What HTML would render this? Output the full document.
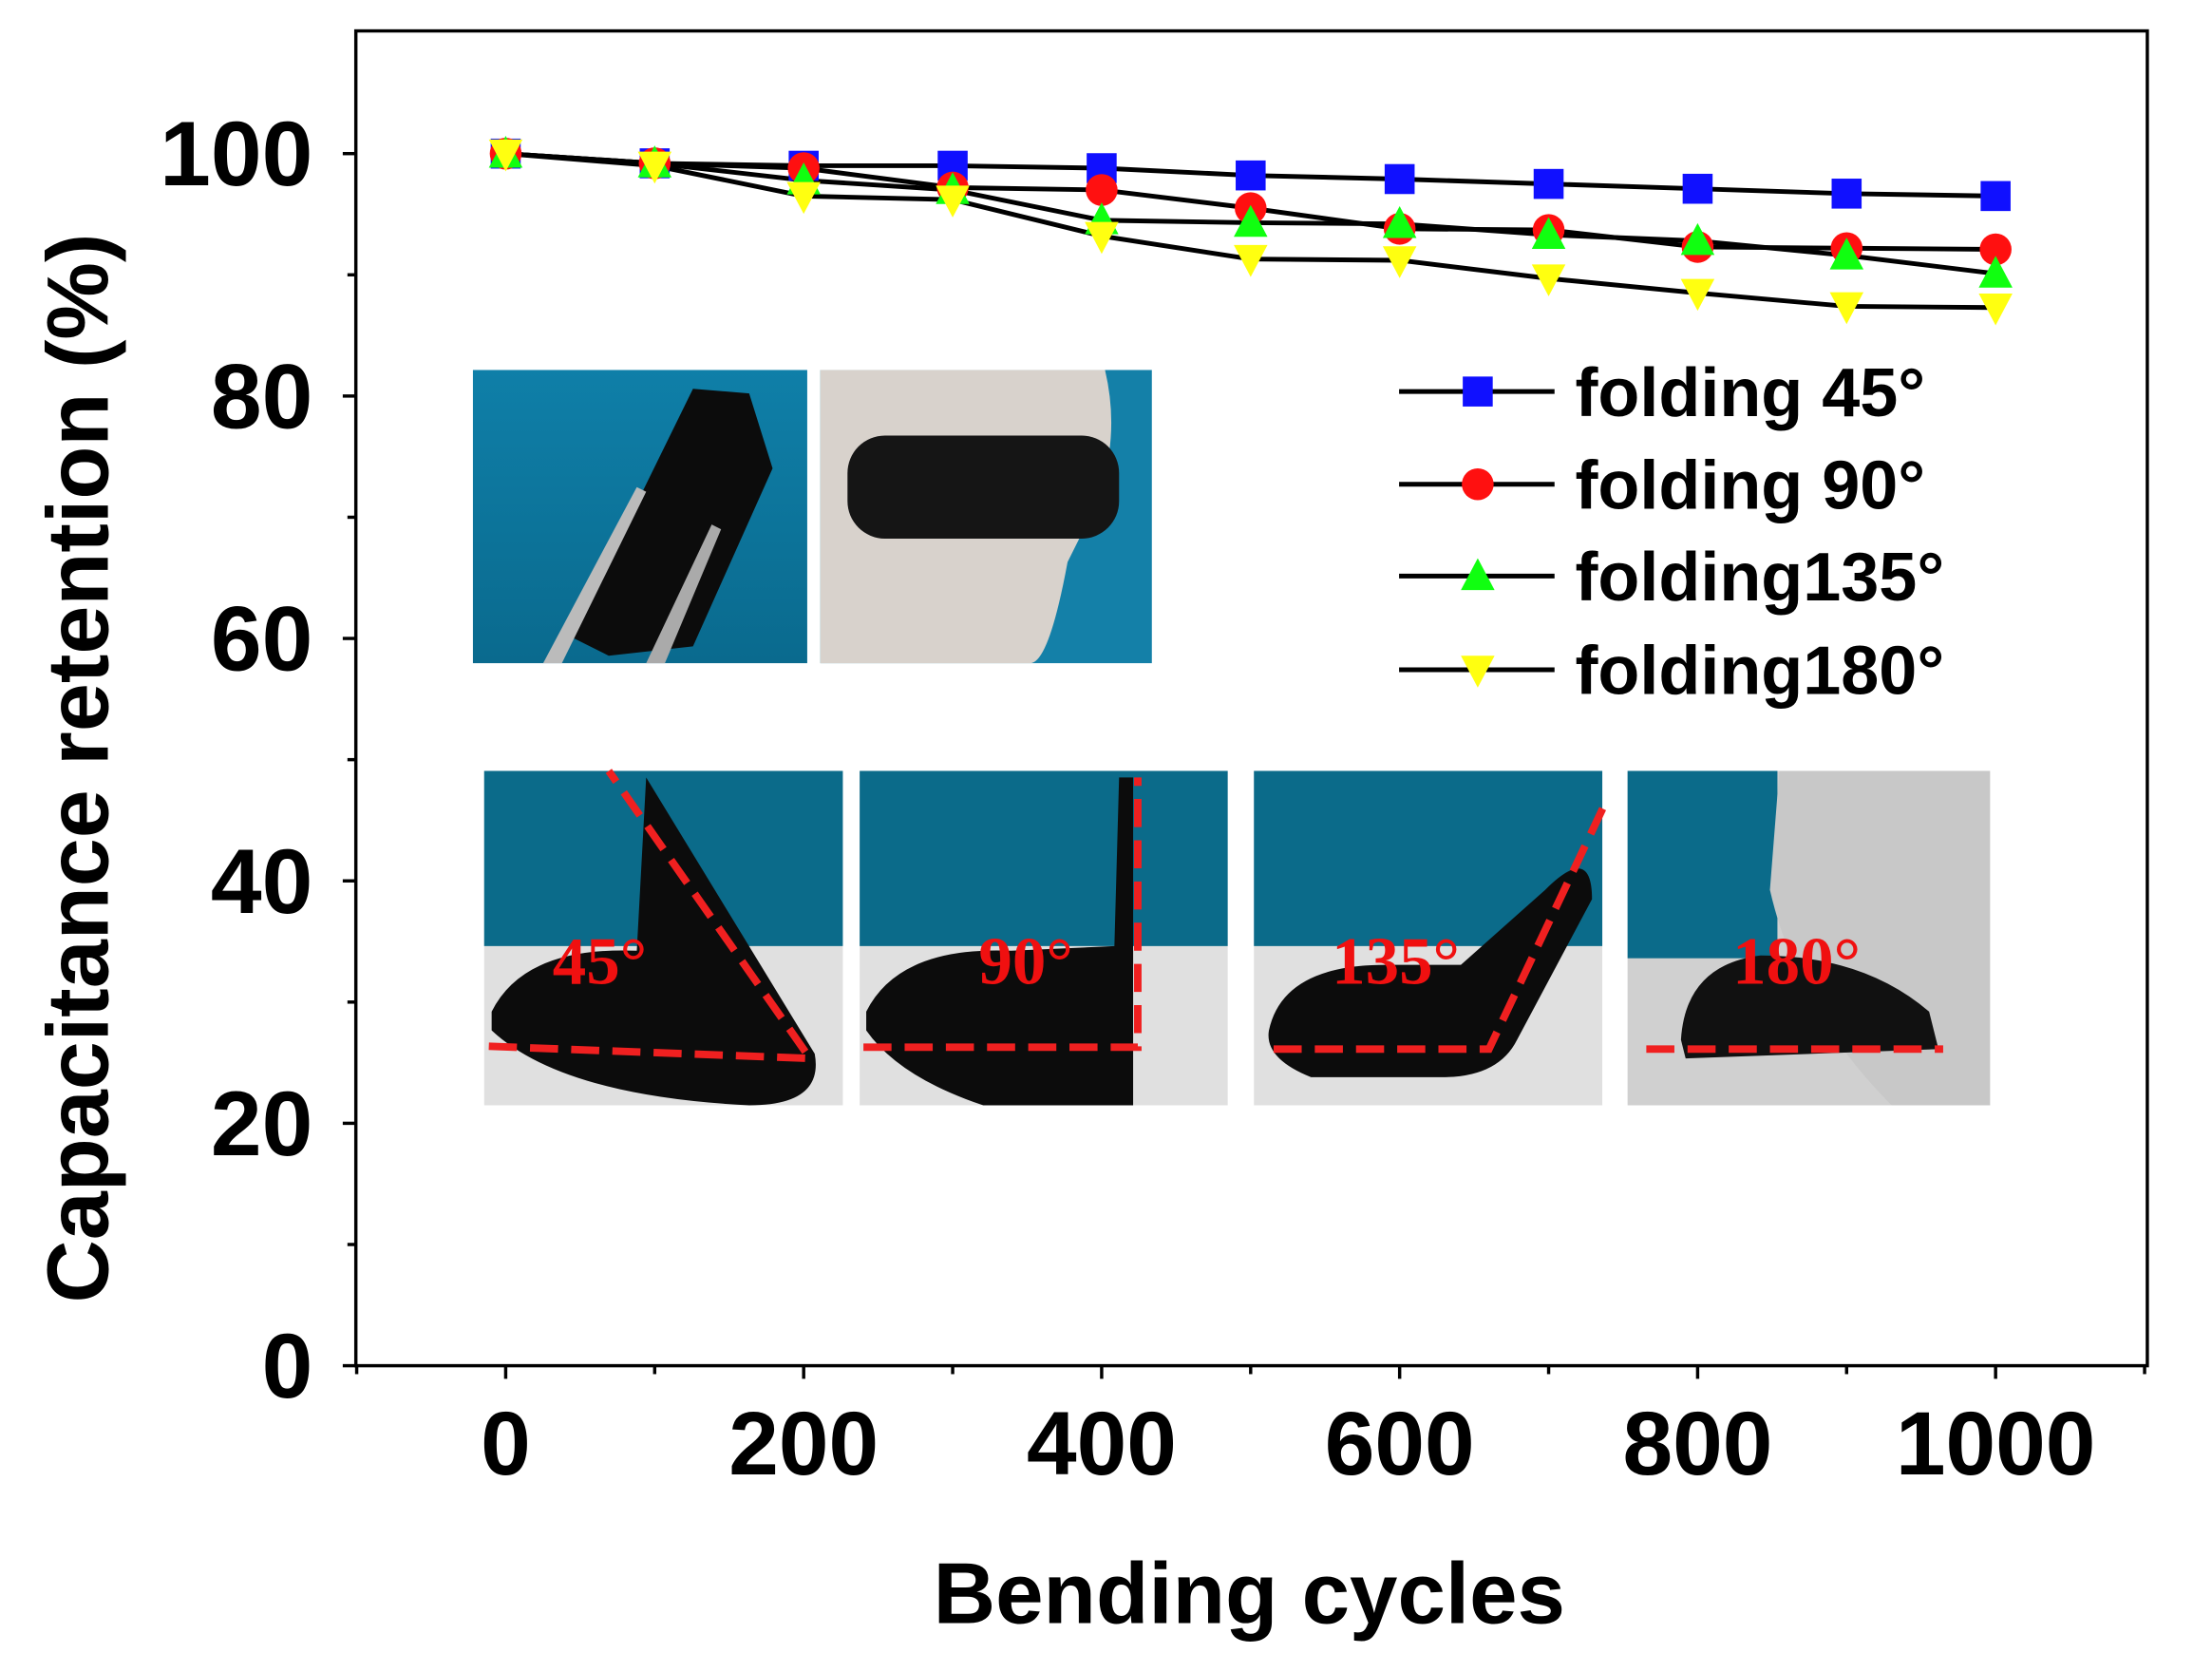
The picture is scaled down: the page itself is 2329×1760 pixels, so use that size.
<!DOCTYPE html>
<html><head><meta charset="utf-8"><style>
html,body{margin:0;padding:0;background:#fff;}
svg{display:block;}
text{font-family:"Liberation Sans",sans-serif;font-weight:bold;}
</style></head><body>
<svg id="s" width="2329" height="1760" viewBox="0 0 2329 1760" xmlns="http://www.w3.org/2000/svg">
<rect width="2329" height="1760" fill="#fff"/>
<defs>
<linearGradient id="bl" x1="0" y1="0" x2="0" y2="1"><stop offset="0" stop-color="#0f7fa8"/><stop offset="1" stop-color="#0a6a8e"/></linearGradient>
</defs>
<g transform="scale(0.986)">
<rect x="505" y="395" width="357" height="313" fill="url(#bl)"/>
<polygon points="610,680 740,415 800,420 825,500 740,690 650,700" fill="#0c0c0c"/>
<polygon points="580,708 680,520 690,525 600,708" fill="#bbb"/>
<polygon points="690,708 760,560 770,565 710,708" fill="#aaa"/>
<rect x="876" y="395" width="354" height="313" fill="#1480a8"/>
<path d="M876,395 L1180,395 Q1200,480 1160,560 L1140,600 Q1120,708 1100,708 L876,708 Z" fill="#d8d2cc"/>
<rect x="905" y="465" width="290" height="110" rx="40" fill="#151515"/>
<g>
<rect x="517" y="823" width="383" height="357" fill="#e0e0e0"/><rect x="517" y="823" width="383" height="187" fill="#0b6b8a"/>
<path d="M525,1080 Q560,1010 680,1015 L690,830 L870,1125 Q880,1180 800,1180 Q600,1170 525,1100Z" fill="#0c0c0c"/>
<rect x="918" y="823" width="393" height="357" fill="#e0e0e0"/><rect x="918" y="823" width="393" height="187" fill="#0b6b8a"/>
<path d="M925,1080 Q960,1010 1080,1015 L1190,1010 L1195,830 L1210,830 L1210,1180 L1050,1180 Q960,1150 925,1100Z" fill="#0c0c0c"/>
<rect x="1339" y="823" width="372" height="357" fill="#e0e0e0"/><rect x="1339" y="823" width="372" height="187" fill="#0b6b8a"/>
<path d="M1355,1100 Q1370,1030 1480,1030 L1560,1030 L1650,950 Q1700,900 1700,960 L1620,1110 Q1600,1150 1540,1150 L1400,1150 Q1350,1130 1355,1100Z" fill="#0c0c0c"/>
<rect x="1738" y="823" width="387" height="357" fill="#d0d0d0"/><rect x="1738" y="823" width="160" height="200" fill="#0b6b8a"/>
<path d="M1900,823 L2125,823 L2125,1180 L2020,1180 Q1920,1080 1890,950 Z" fill="#c8c8c8"/>
<path d="M1795,1110 Q1800,1030 1880,1020 Q1990,1020 2060,1080 L2070,1120 L1800,1130Z" fill="#111"/>
</g>
<g stroke="#f02020" stroke-width="8" stroke-dasharray="30,14" fill="none">
<path d="M522,1117 L865,1130 L650,823"/>
<path d="M922,1118 L1215,1118 L1215,830"/>
<path d="M1360,1120 L1590,1120 L1712,862"/>
<path d="M1758,1120 L2075,1120"/>
</g>
<g fill="#f01010" font-size="72">
<text x="590" y="1050" style="font-family:'Liberation Serif',serif">45°</text>
<text x="1045" y="1050" style="font-family:'Liberation Serif',serif">90°</text>
<text x="1422" y="1050" style="font-family:'Liberation Serif',serif">135°</text>
<text x="1850" y="1050" style="font-family:'Liberation Serif',serif">180°</text>
</g>
<g id="ax"></g>
<g id="pl"></g>
</g>
</svg>
<script>
var ns="http://www.w3.org/2000/svg";
function el(t,a,p,txt){var e=document.createElementNS(ns,t);for(var k in a)e.setAttribute(k,a[k]);if(txt!=null)e.textContent=txt;(p||document.getElementById('pl')).appendChild(e);return e;}
function X(c){return 540+c*1.591;}function Y(v){return 1458-v*12.94;}
var ax=document.getElementById('ax');
el('rect',{x:380,y:33,width:1913,height:1425,fill:'none',stroke:'#000','stroke-width':3.5},ax);
for(var v=0;v<=100;v+=10){var L=v%20==0?14:9;el('line',{x1:380-L,x2:380,y1:Y(v),y2:Y(v),stroke:'#000','stroke-width':3.5},ax);
 if(v%20==0)el('text',{x:334,y:Y(v)+34,'text-anchor':'end','font-size':98},ax,''+v);}
for(var c=-100;c<=1100;c+=100){var L=(c%200==0)?14:9;el('line',{x1:X(c),x2:X(c),y1:1458,y2:1458+L,stroke:'#000','stroke-width':3.5},ax);
 if(c>=0&&c<=1000&&c%200==0)el('text',{x:X(c),y:1574,'text-anchor':'middle','font-size':96},ax,''+c);}
el('text',{x:1334,y:1733,'text-anchor':'middle','font-size':92},ax,'Bending cycles');
el('text',{x:0,y:0,'text-anchor':'middle','font-size':93,transform:'translate(115,820) rotate(-90)'},ax,'Capacitance retention (%)');
var D=[[100,99.2,99,99,98.8,98.2,97.9,97.5,97.1,96.7,96.5],
[100,99.2,98.8,97.2,97,95.5,93.8,93.7,92.3,92.2,92.1],
[100,99.2,97.8,97,94.5,94.3,94.2,93.3,92.8,91.6,90.1],
[100,99,96.5,96.2,93.2,91.3,91.2,89.7,88.5,87.4,87.3]];
var C=['#1010ff','#ff1010','#10ff10','#ffff10'];
function mk(i,x,y){var r=16;
 if(i==0)el('rect',{x:x-r,y:y-r,width:2*r,height:2*r,fill:C[0]});
 else if(i==1)el('circle',{cx:x,cy:y,r:r+1,fill:C[1]});
 else if(i==2)el('polygon',{points:(x)+','+(y-r-3)+' '+(x+r+2)+','+(y+r-1)+' '+(x-r-2)+','+(y+r-1),fill:C[2]});
 else el('polygon',{points:(x)+','+(y+r+3)+' '+(x+r+2)+','+(y-r+1)+' '+(x-r-2)+','+(y-r+1),fill:C[3]});}
for(var i=0;i<4;i++){var p=D[i].map(function(v,j){return X(j*100)+','+Y(v)}).join(' ');
 el('polyline',{points:p,fill:'none',stroke:'#000','stroke-width':5});}
for(var i=0;i<4;i++)D[i].forEach(function(v,j){mk(i,X(j*100),Y(v));});
var LY=[418,517,615,715],LT=['folding 45°','folding 90°','folding135°','folding180°'];
for(var i=0;i<4;i++){el('line',{x1:1494,x2:1660,y1:LY[i],y2:LY[i],stroke:'#000','stroke-width':5});mk(i,1578,LY[i]);
 el('text',{x:1682,y:LY[i]+26,'font-size':73},null,LT[i]);}
</script>
</body></html>
